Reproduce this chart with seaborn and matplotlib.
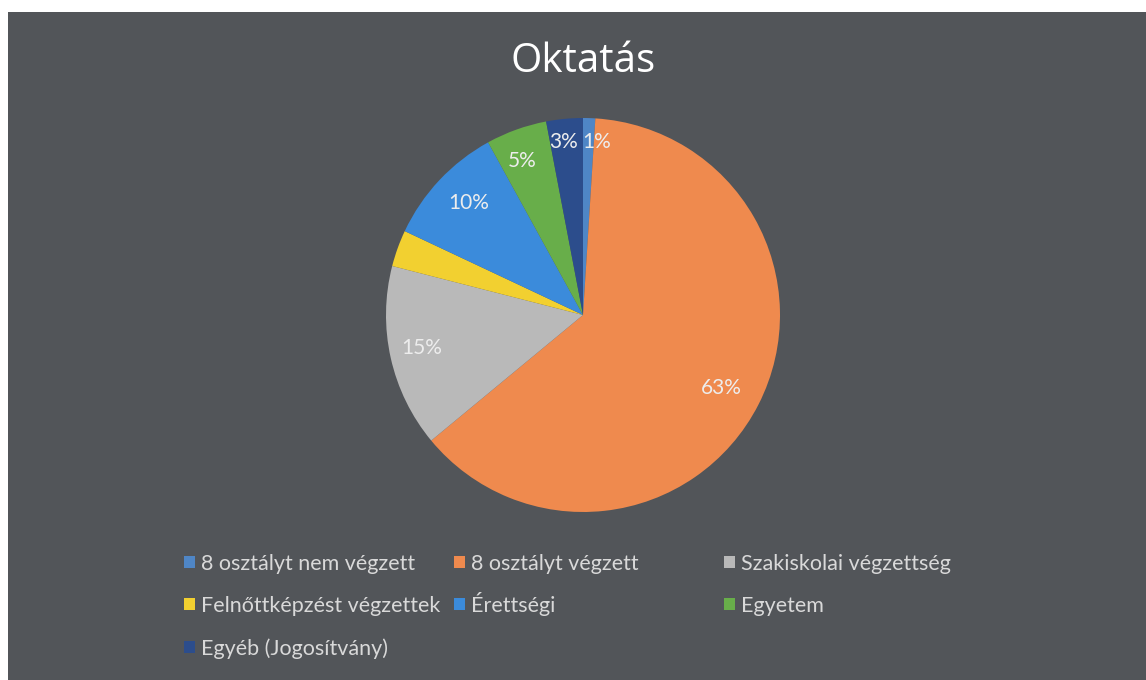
import matplotlib
matplotlib.use("Agg")
import matplotlib.pyplot as plt  # for plotting
import seaborn as sns            # styling
from matplotlib.patches import Rectangle

# chart data
categories = ["8 osztályt nem végzett", "8 osztályt végzett", "Szakiskolai végzettség",
              "Felnőttképzést végzettek", "Érettségi", "Egyetem", "Egyéb (Jogosítvány)"]
percent = [1, 63, 15, 3, 10, 5, 3]
colors = ["#4F86C6", "#EF8A4E", "#B9B9B9", "#F2D030", "#3B8BDB", "#68AE4A", "#2C4D8C"]
title = "Oktatás"

sns.set_style("dark")
plt.rcParams["font.family"] = ["Lato", "DejaVu Sans"]

bg = "#525559"
fig = plt.figure(figsize=(11.46, 6.80), dpi=100)
fig.patch.set_facecolor("white")
# dark chart area (scan has a thin white margin top/left)
fig.patches.append(Rectangle((8 / 1146, 0), 1, 1 - 12 / 680, transform=fig.transFigure,
                             facecolor=bg, edgecolor="none", zorder=-5))

# pie axes: centre ~ (583, 315) px, radius ~ 197 px
cx, cy, r = 583, 315, 197
ax = fig.add_axes([(cx - r) / 1146, (680 - cy - r) / 680, 2 * r / 1146, 2 * r / 680])
ax.set_facecolor("none")
ax.set_zorder(2)

wedges, texts, autotexts = ax.pie(
    percent, colors=colors, startangle=90, counterclock=False,
    autopct="%d%%", pctdistance=0.82, radius=1,
    wedgeprops=dict(linewidth=0),
    textprops=dict(color="#EDEDED", fontsize=15))
ax.set_xlim(-1, 1)
ax.set_ylim(-1, 1)
ax.set_aspect("equal")
ax.axis("off")

# the yellow slice has no label in the original
autotexts[3].set_visible(False)
# the two tiny labels at the top sit side by side
autotexts[0].set_position((0.07, 0.88))
autotexts[6].set_position((-0.1, 0.88))
autotexts[1].set_position((0.7, -0.37))
autotexts[2].set_position((-0.82, -0.17))
autotexts[4].set_position((-0.58, 0.57))
autotexts[5].set_position((-0.31, 0.78))

# title
fig.text(583 / 1146, 1 - 62 / 680, title, color="white", fontsize=29,
         ha="center", va="center", family=["Open Sans", "DejaVu Sans"])

# legend items placed one by one (three columns, three rows)
xs = [184, 454, 724, 184, 454, 724, 184]
ys = [563, 563, 563, 605, 605, 605, 648]
for i in range(len(categories)):
    fig.legend([wedges[i]], [categories[i]],
               loc="lower left", bbox_to_anchor=(xs[i] / 1146, 1 - (ys[i] + 11) / 680),
               frameon=False, fontsize=15.5, labelcolor="#D9D9D9",
               handlelength=0.5, handleheight=0.5, handletextpad=0.3,
               borderpad=0, borderaxespad=0)

fig.savefig("out.png", dpi=100, facecolor=fig.get_facecolor())
